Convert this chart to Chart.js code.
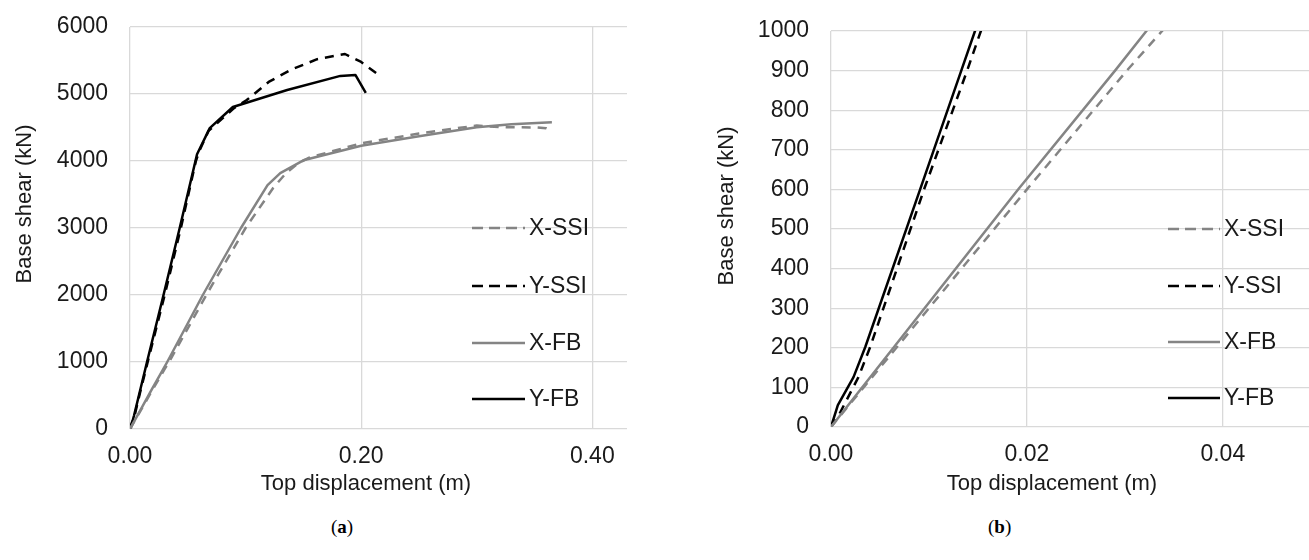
<!DOCTYPE html>
<html>
<head>
<meta charset="utf-8">
<script src="https://cdn.jsdelivr.net/npm/chart.js@4.4.1/dist/chart.umd.min.js"></script>
<style>
  html, body { margin: 0; padding: 0; background: #fff; }
  body { width: 1309px; height: 560px; position: relative; overflow: hidden; }
  #wrapA { position: absolute; left: 0; top: 0; width: 660px; height: 510px; }
  #wrapB { position: absolute; left: 655px; top: 0; width: 654px; height: 510px; }
  .cap { position: absolute; top: 516px; font-family: "Liberation Serif", "DejaVu Serif", serif; font-size: 19px; color: #000; }
  .cap b { font-weight: bold; }
</style>
</head>
<body>
<div id="wrapA"><canvas id="chartA" width="660" height="510"></canvas></div>
<div id="wrapB"><canvas id="chartB" width="654" height="510"></canvas></div>
<div class="cap" style="left:331px;">(<b>a</b>)</div>
<div class="cap" style="left:988px;">(<b>b</b>)</div>
<script>
// ---- Data (displacement in m, base shear in kN) ----
const seriesNames = ["X-SSI", "Y-SSI", "X-FB", "Y-FB"];

const xssiDisp  = [0, 0.0035, 0.0200, 0.0302, 0.0338, 0.066, 0.100, 0.124, 0.135, 0.145, 0.155, 0.200, 0.250, 0.300, 0.320, 0.352, 0.360, 0.365];
const xssiShear = [0, 105, 600, 900, 1000, 2000, 3000, 3600, 3820, 3960, 4050, 4264, 4410, 4530, 4505, 4500, 4490, 4455];

const yssiDisp  = [0, 0.0008, 0.0028, 0.0040, 0.0095, 0.0139, 0.0153, 0.030, 0.044, 0.057, 0.060, 0.068, 0.090, 0.101, 0.120, 0.139, 0.162, 0.186, 0.200, 0.214];
const yssiShear = [0, 30, 126, 202, 600, 900, 1000, 2000, 3000, 4000, 4150, 4450, 4790, 4910, 5180, 5360, 5520, 5597, 5478, 5300];

const xfbDisp  = [0, 0.0191, 0.0290, 0.0322, 0.063, 0.096, 0.119, 0.130, 0.150, 0.200, 0.250, 0.300, 0.330, 0.365];
const xfbShear = [0, 600, 900, 1000, 2000, 3000, 3640, 3820, 4010, 4228, 4370, 4505, 4550, 4580];

const yfbDisp  = [0, 0.0007, 0.0023, 0.0035, 0.0091, 0.0133, 0.0147, 0.029, 0.043, 0.058, 0.069, 0.089, 0.136, 0.182, 0.195, 0.204];
const yfbShear = [0, 55, 126, 202, 600, 900, 1000, 2000, 3000, 4100, 4490, 4806, 5060, 5270, 5284, 5015];

// ---- Axis ticks ----
const ticksA_x = [0, 0.2, 0.4];
const ticksA_y = [0, 1000, 2000, 3000, 4000, 5000, 6000];
const ticksB_x = [0, 0.02, 0.04];
const ticksB_y = [0, 100, 200, 300, 400, 500, 600, 700, 800, 900, 1000];

const xTitle = "Top displacement (m)";
const yTitle = "Base shear (kN)";

function pts(xs, ys) { return xs.map((x, i) => ({ x: x, y: ys[i] })); }

const GRAY = "#848484";
const BLACK = "#000000";
const GRID = "#d9d9d9";
const TXT = "#1a1a1a";
const FONT = "'Liberation Sans', Arial, sans-serif";

function makeDatasets() {
  return [
    { label: seriesNames[2], data: pts(xfbDisp, xfbShear), borderColor: GRAY, borderWidth: 2.5, borderDash: [] },
    { label: seriesNames[0], data: pts(xssiDisp, xssiShear), borderColor: GRAY, borderWidth: 2.5, borderDash: [9, 7] },
    { label: seriesNames[3], data: pts(yfbDisp, yfbShear), borderColor: BLACK, borderWidth: 2.5, borderDash: [] },
    { label: seriesNames[1], data: pts(yssiDisp, yssiShear), borderColor: BLACK, borderWidth: 2.5, borderDash: [9, 7] }
  ].map(d => Object.assign(d, { showLine: true, pointRadius: 0, pointHoverRadius: 0, tension: 0, fill: false, borderCapStyle: 'butt', borderJoinStyle: 'round' }));
}

const legendOrder = [1, 3, 0, 2]; // X-SSI, Y-SSI, X-FB, Y-FB (dataset indices)

const overlayLegend = {
  id: 'overlayLegend',
  afterDatasetsDraw(chart, args, opts) {
    const ctx = chart.ctx;
    ctx.save();
    ctx.font = "23px " + FONT;
    ctx.textBaseline = 'middle';
    ctx.textAlign = 'left';
    legendOrder.forEach((di, k) => {
      const ds = chart.data.datasets[di];
      const y = opts.ys[k];
      ctx.beginPath();
      ctx.strokeStyle = ds.borderColor;
      ctx.lineWidth = ds.borderWidth;
      ctx.setLineDash(ds.borderDash.length ? [11, 6] : []);
      ctx.moveTo(opts.x, y);
      ctx.lineTo(opts.x + opts.len, y);
      ctx.stroke();
      ctx.setLineDash([]);
      ctx.fillStyle = TXT;
      ctx.fillText(ds.label, opts.x + opts.len + 4, y + 1);
    });
    ctx.restore();
  }
};

const axisTitles = {
  id: 'axisTitles',
  afterDraw(chart, args, opts) {
    const ctx = chart.ctx;
    ctx.save();
    ctx.font = "22px " + FONT;
    ctx.fillStyle = TXT;
    ctx.textAlign = 'center';
    ctx.textBaseline = 'middle';
    ctx.fillText(xTitle, opts.xTitleX, opts.xTitleY);
    ctx.translate(opts.yTitleX, opts.yTitleY);
    ctx.rotate(-Math.PI / 2);
    ctx.fillText(yTitle, 0, 0);
    ctx.restore();
  }
};

function makeOptions(cfg) {
  return {
    responsive: false,
    devicePixelRatio: 1,
    animation: false,
    events: [],
    layout: { padding: { left: 0, right: cfg.padRight, top: cfg.padTop, bottom: 0 } },
    plugins: {
      legend: { display: false },
      tooltip: { enabled: false },
      overlayLegend: cfg.legend,
      axisTitles: cfg.titles
    },
    scales: {
      x: {
        type: 'linear',
        min: 0, max: cfg.xMax,
        afterBuildTicks: (s) => { s.ticks = cfg.xTicks.map(v => ({ value: v })); },
        afterFit: (s) => { s.height = cfg.xHeight; },
        grid: { color: GRID, lineWidth: 1.3, drawTicks: true, tickLength: 14, tickColor: 'rgba(0,0,0,0)' },
        border: { display: false },
        ticks: { color: TXT, font: { family: FONT, size: 23 }, padding: 0, maxRotation: 0,
                 callback: (v) => Number(v).toFixed(2) },
        title: { display: false }
      },
      y: {
        type: 'linear',
        min: 0, max: cfg.yMax,
        afterBuildTicks: (s) => { s.ticks = cfg.yTicks.map(v => ({ value: v })); },
        afterFit: (s) => { s.width = cfg.yWidth; },
        grid: { color: GRID, lineWidth: 1.3, drawTicks: true, tickLength: 22, tickColor: 'rgba(0,0,0,0)' },
        border: { display: false },
        ticks: { color: TXT, font: { family: FONT, size: 23 }, padding: 0, callback: (v) => String(v) },
        title: { display: false }
      }
    }
  };
}

new Chart(document.getElementById('chartA'), {
  type: 'scatter',
  data: { datasets: makeDatasets() },
  options: makeOptions({
    xMax: 0.43, yMax: 6000, xTicks: ticksA_x, yTicks: ticksA_y,
    padRight: 33, padTop: 27, xHeight: 81, yWidth: 130,
    legend: { x: 472, len: 53, ys: [228, 286, 343, 399] },
    titles: { xTitleX: 366, xTitleY: 484, yTitleX: 25, yTitleY: 204 }
  }),
  plugins: [overlayLegend, axisTitles]
});

new Chart(document.getElementById('chartB'), {
  type: 'scatter',
  data: { datasets: makeDatasets() },
  options: makeOptions({
    xMax: 0.0488, yMax: 1000, xTicks: ticksB_x, yTicks: ticksB_y,
    padRight: 0, padTop: 31, xHeight: 83, yWidth: 176,
    legend: { x: 513, len: 52, ys: [229, 286, 342, 398] },
    titles: { xTitleX: 397, xTitleY: 484, yTitleX: 72, yTitleY: 206 }
  }),
  plugins: [overlayLegend, axisTitles]
});
</script>
</body>
</html>
